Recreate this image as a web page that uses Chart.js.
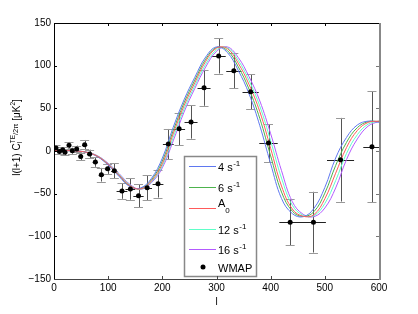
<!DOCTYPE html>
<html><head><meta charset="utf-8">
<script src="https://cdn.jsdelivr.net/npm/chart.js@4/dist/chart.umd.min.js"></script>
<style>html,body{margin:0;padding:0;background:#fff}#wrap{width:418px;height:314px;position:relative}</style>
</head><body><div id="wrap"><canvas id="c" width="418" height="314"></canvas></div>
<script>
// ---- data ----
const curveL = [0,20,40,60,80,100,120,140,160,180,200,220,240,260,280,300,320,340,360,380,400,420,440,460,480,500,520,540,560,580,600];
const curve4  = [0.5,0.5,0,-1.7,-6.6,-16.6,-29.7,-41.7,-43.3,-32.0,-8.4,27.7,59.9,86.4,110.1,122.0,115.5,94.7,67.1,29.6,-15.0,-55.6,-73.4,-77.0,-67.2,-42.7,-8.2,15.9,30.5,35.0,33.6];
const curve6  = [0.5,0.5,0,-1.6,-6.3,-16.0,-28.8,-41.1,-43.9,-33.6,-11.8,23.7,56.4,83.1,107.5,121.3,117.8,98.9,72.6,38.0,-5.8,-48.1,-70.6,-76.8,-71.0,-49.4,-17.0,10.1,27.4,34.4,34.6];
const curveA0 = [0.5,0.5,0,-1.5,-6.0,-15.5,-28.0,-40.5,-44.5,-35.0,-15.0,20.0,53.0,80.0,105.0,120.5,120.0,103.0,78.0,46.0,3.0,-41.0,-68.0,-76.5,-74.5,-56.0,-26.0,4.0,24.0,33.5,35.0];
const curve12 = [0.5,0.5,0,-1.4,-5.7,-15.0,-27.2,-39.7,-44.8,-36.1,-17.4,15.8,49.2,76.6,101.6,118.5,121.0,106.4,82.7,52.5,11.8,-31.8,-63.6,-75.4,-75.7,-61.5,-34.7,-2.9,19.1,31.5,35.0];
const curve16 = [0.5,0.5,0,-1.3,-5.5,-14.4,-26.4,-39.0,-44.9,-37.1,-19.7,11.8,45.5,73.4,98.4,116.7,122.0,109.7,87.2,58.6,20.2,-23.0,-59.4,-74.2,-76.9,-66.8,-43.3,-10.0,14.1,29.2,34.8];

const wmapL    = [3.7,10,16,20.3,27.7,33.8,41.9,49.3,56.6,65.8,76.3,87.4,99,111.4,125.5,141,156,172,192,211,231,253,277,304,332,363,396,436,479,529,587];
const wmapV    = [3.5,-0.5,1.5,-1.6,6.6,0.3,2.3,-6.3,7.4,-3.5,-13,-27.8,-20.8,-23.1,-47,-44.6,-52.5,-43.2,-38.5,8.2,26,34,74,111.4,94,69.5,9.5,-83.4,-83.4,-10.2,5];
const wmapErr  = [3.5,3,3,3,4,3.5,4,4.5,5.5,5,5.5,8,6,9,9,12.5,13.5,14.5,16,17.6,19,19.5,21,20.6,20.3,20.5,22,27,35.6,49,65];
const wmapLErr = [3,3,3,3,3,3,3,4,5,5,5,5,5,6,10,9,9.5,9,10,10,11,12,12,13,14,15,17,20,23,25,16];

const xTickStep = 100, yTickStep = 50;
const legendText   = ['4 s','6 s','A','12 s','16 s','WMAP'];
const legendScript = ['-1','-1','0','-1','-1',''];
const seriesColors = ['#5f78f0','#4db34d','#ff5a5a','#5fffc8','#b45aff'];
const seriesValues = [curve4, curve6, curveA0, curve12, curve16];

const FONT = "'Liberation Sans', Arial, Helvetica, sans-serif";

const errorBars = {
  id:'errorBars',
  beforeDatasetsDraw(chart){
    const {ctx, chartArea:ca, scales:{x,y}} = chart;
    ctx.save();
    ctx.beginPath(); ctx.rect(ca.left, ca.top, ca.right-ca.left, ca.bottom-ca.top); ctx.clip();
    ctx.lineWidth = 1;
    for (let i=0;i<wmapL.length;i++){
      const px = x.getPixelForValue(wmapL[i]);
      const py = y.getPixelForValue(wmapV[i]);
      const pt = y.getPixelForValue(wmapV[i]+wmapErr[i]);
      const pb = y.getPixelForValue(wmapV[i]-wmapErr[i]);
      const pl = x.getPixelForValue(wmapL[i]-wmapLErr[i]);
      const pr = x.getPixelForValue(wmapL[i]+wmapLErr[i]);
      ctx.strokeStyle = '#555';
      ctx.beginPath(); ctx.moveTo(Math.round(px)+0.5, pt); ctx.lineTo(Math.round(px)+0.5, pb); ctx.stroke();
      ctx.strokeStyle = '#999';
      ctx.beginPath();
      ctx.moveTo(px-4.5, Math.round(pt)+0.5); ctx.lineTo(px+4.5, Math.round(pt)+0.5);
      ctx.moveTo(px-4.5, Math.round(pb)+0.5); ctx.lineTo(px+4.5, Math.round(pb)+0.5);
      ctx.stroke();
      ctx.strokeStyle = '#222';
      ctx.beginPath(); ctx.moveTo(pl, Math.round(py)+0.5); ctx.lineTo(pr, Math.round(py)+0.5); ctx.stroke();
    }
    ctx.restore();
  }
};

const frameAndText = {
  id:'frameAndText',
  afterDatasetsDraw(chart){
    const {ctx} = chart;
    const bx=184, by=156, bw=73, bh=121;
    ctx.save();
    ctx.fillStyle='#fff'; ctx.fillRect(bx,by,bw,bh);
    ctx.strokeStyle='#888'; ctx.lineWidth=1.5; ctx.strokeRect(bx+0.5,by+0.5,bw-1,bh-1);
    const rows=[166,187,207.5,229,249,267];
    ctx.fillStyle='#000'; ctx.textBaseline='alphabetic'; ctx.textAlign='left';
    for (let i=0;i<legendText.length;i++){
      const ry=rows[i];
      if (i<5){
        ctx.strokeStyle=seriesColors[i]; ctx.lineWidth=1;
        ctx.beginPath(); ctx.moveTo(189, Math.round(ry)+0.5); ctx.lineTo(216, Math.round(ry)+0.5); ctx.stroke();
      } else {
        ctx.beginPath(); ctx.arc(203, ry, 2.5, 0, Math.PI*2); ctx.fill();
      }
      const tx=218;
      ctx.font = '11px '+FONT;
      if (i===2){
        ctx.fillText(legendText[i], tx, ry-0.5);
        const w=ctx.measureText(legendText[i]).width;
        ctx.font='8px '+FONT;
        ctx.fillText(legendScript[i], tx+w, ry+5.5);
      } else {
        ctx.fillText(legendText[i], tx, ry+4.5);
        const w=ctx.measureText(legendText[i]).width;
        if (legendScript[i]){
          ctx.font='8px '+FONT;
          ctx.fillText(legendScript[i], tx+w+0.5, ry-0.5);
        }
      }
    }
    ctx.restore();
  },
  afterDraw(chart){
    const {ctx, chartArea:ca, scales:{x,y}} = chart;
    ctx.save();
    const L=ca.left, R=ca.right, T=ca.top, B=ca.bottom;
    ctx.lineWidth=1;
    for (let v=x.min; v<=x.max; v+=xTickStep){
      const px=Math.round(x.getPixelForValue(v))+0.5;
      ctx.strokeStyle='#000';
      ctx.beginPath(); ctx.moveTo(px,T); ctx.lineTo(px,T+3); ctx.stroke();
      ctx.strokeStyle='#444';
      ctx.beginPath(); ctx.moveTo(px,B); ctx.lineTo(px,B-3); ctx.stroke();
    }
    for (let v=y.min; v<=y.max; v+=yTickStep){
      const py=Math.round(y.getPixelForValue(v))+0.5;
      ctx.strokeStyle='#000';
      ctx.beginPath(); ctx.moveTo(L,py); ctx.lineTo(L+3,py); ctx.stroke();
      ctx.strokeStyle='#777';
      ctx.beginPath(); ctx.moveTo(R,py); ctx.lineTo(R-3,py); ctx.stroke();
    }
    ctx.strokeStyle='#000'; ctx.lineWidth=1;
    ctx.beginPath(); ctx.moveTo(Math.round(L)+0.5, B); ctx.lineTo(Math.round(L)+0.5, Math.round(T)+0.5); ctx.lineTo(R, Math.round(T)+0.5); ctx.stroke();
    ctx.strokeStyle='#444';
    ctx.beginPath(); ctx.moveTo(L, Math.round(B)+0.5); ctx.lineTo(R, Math.round(B)+0.5); ctx.stroke();
    ctx.strokeStyle='#888'; ctx.lineWidth=2;
    ctx.beginPath(); ctx.moveTo(Math.round(R)+1, T); ctx.lineTo(Math.round(R)+1, B+1); ctx.stroke();
    const parts=[
      {t:'l(l+1) C', s:10, dy:0},
      {t:'TE', s:6.5, dy:-4.5, sub:'l', subDy:2.5},
      {t:'/2π', s:7.5, dy:-2},
      {t:' [μK', s:10, dy:0},
      {t:'2', s:6.5, dy:-4.5},
      {t:']', s:10, dy:0}
    ];
    let total=0;
    parts.forEach(p=>{ ctx.font=p.s+'px '+FONT; p.w=ctx.measureText(p.t).width; if(p.sub){p.w=Math.max(p.w, ctx.measureText(p.sub).width);} total+=p.w; });
    ctx.translate(19.5, 137.5);
    ctx.rotate(-Math.PI/2);
    ctx.fillStyle='#000'; ctx.textAlign='left'; ctx.textBaseline='alphabetic';
    let cx=-total/2;
    parts.forEach(p=>{
      ctx.font=p.s+'px '+FONT;
      ctx.fillText(p.t, cx, p.dy);
      if (p.sub) ctx.fillText(p.sub, cx, p.subDy);
      cx+=p.w;
    });
    ctx.restore();
  }
};

const datasets = [{
  type:'scatter', label:'WMAP',
  data: wmapL.map((l,i)=>({x:l, y:wmapV[i]})),
  pointRadius:2.5, pointBackgroundColor:'#000', pointBorderColor:'#000', pointBorderWidth:0,
  showLine:false, order:0
}];
seriesValues.forEach((vals, k)=>{
  datasets.push({
    type:'line', label: legendText[k]+legendScript[k],
    data: curveL.map((l,i)=>({x:l, y:vals[i]})),
    borderColor: seriesColors[k], borderWidth:1, pointRadius:0, tension:0.4, fill:false,
    order: k===2 ? 1 : 2+k
  });
});

new Chart(document.getElementById('c'), {
  type:'scatter',
  data:{datasets},
  options:{
    responsive:false, animation:false, devicePixelRatio:1,
    layout:{padding:{top:23,right:39,left:0,bottom:0}},
    plugins:{legend:{display:false}, tooltip:{enabled:false}},
    scales:{
      x:{type:'linear', min:0, max:600,
         ticks:{stepSize:xTickStep, color:'#000', font:{family:FONT,size:10}, padding:3, maxRotation:0},
         grid:{display:false, drawTicks:false}, border:{display:false},
         title:{display:true, text:'l', color:'#000', font:{family:FONT,size:10}, padding:{top:0,bottom:6}},
         afterFit(s){ s.height=35; }},
      y:{type:'linear', min:-150, max:150,
         ticks:{stepSize:yTickStep, color:'#000', font:{family:FONT,size:10}, padding:3,
                callback:v=> v<0 ? '\u2212'+Math.abs(v) : String(v)},
         grid:{display:false, drawTicks:false}, border:{display:false},
         afterFit(s){ s.width=54; }}
    }
  },
  plugins:[errorBars, frameAndText]
});
</script></body></html>
